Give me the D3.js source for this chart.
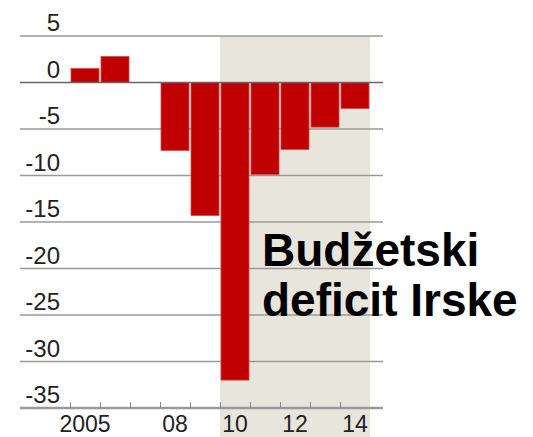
<!DOCTYPE html>
<html>
<head>
<meta charset="utf-8">
<script src="https://cdn.jsdelivr.net/npm/d3@7"></script>
<style>
  html, body { margin: 0; padding: 0; background: #fff; }
  svg { display: block; }
  text { font-family: "Liberation Sans", Arial, sans-serif; }
</style>
</head>
<body>
<svg id="chart" width="533" height="437"></svg>
<script>
// Irish general government balance, % of GDP
const years = [2005, 2006, 2007, 2008, 2009, 2010, 2011, 2012, 2013, 2014];
const balance = [1.5, 2.8, 0, -7.3, -14.3, -32.0, -9.9, -7.2, -4.8, -2.8];
const forecastFrom = 2010;
const yTicks = [5, 0, -5, -10, -15, -20, -25, -30, -35];
const xLabelYears = [2005, 2008, 2010, 2012, 2014];
const xLabelText = ["2005", "08", "10", "12", "14"];
const titleLines = ["Budžetski", "deficit Irske"];

const svg = d3.select("#chart");
const W = 533, H = 437;

const x = d3.scaleBand().domain(years).range([70, 370])
  .paddingInner(2 / 30).paddingOuter(1 / 30);
const y = d3.scaleLinear().domain([-35, 5]).range([408, 36]);

const gap = x.step() - x.bandwidth();
const gridLeft = 20, gridRight = 383;

// shaded projection period
svg.append("rect")
  .attr("x", x(forecastFrom) - gap / 2)
  .attr("y", y(5))
  .attr("width", x.range()[1] - (x(forecastFrom) - gap / 2))
  .attr("height", H - y(5))
  .attr("fill", "#e8e6dc");

// horizontal gridlines
svg.append("g").selectAll("line")
  .data(yTicks.filter(d => d !== 0 && d !== -35))
  .join("line")
  .attr("x1", gridLeft).attr("x2", gridRight)
  .attr("y1", d => y(d)).attr("y2", d => y(d))
  .attr("stroke", "#999").attr("stroke-width", 1.4);

// bars
svg.append("g").selectAll("rect")
  .data(years.map((yr, i) => ({ yr, v: balance[i] })).filter(d => d.v !== 0))
  .join("rect")
  .attr("x", d => x(d.yr))
  .attr("width", x.bandwidth())
  .attr("y", d => y(Math.max(0, d.v)))
  .attr("height", d => Math.abs(y(d.v) - y(0)))
  .attr("fill", "#c00000")
  .attr("stroke", "#d84848")
  .attr("stroke-width", 0.8);

// zero line
svg.append("line")
  .attr("x1", gridLeft).attr("x2", gridRight)
  .attr("y1", y(0)).attr("y2", y(0))
  .attr("stroke", "#666").attr("stroke-width", 1.6);

// baseline axis
svg.append("line")
  .attr("x1", gridLeft).attr("x2", gridRight)
  .attr("y1", y(-35)).attr("y2", y(-35))
  .attr("stroke", "#999").attr("stroke-width", 2.4);

// year ticks at band boundaries
svg.append("g").selectAll("line")
  .data(years)
  .join("line")
  .attr("x1", d => x(d) - gap / 2 + 0.5).attr("x2", d => x(d) - gap / 2 + 0.5)
  .attr("y1", y(-35) - 6).attr("y2", y(-35))
  .attr("stroke", "#888").attr("stroke-width", 1);

// y tick labels
svg.append("g").selectAll("text")
  .data(yTicks)
  .join("text")
  .attr("x", 60)
  .attr("y", d => y(d) - 5)
  .attr("text-anchor", "end")
  .attr("font-size", 24)
  .attr("fill", "#222")
  .text(d => d);

// x tick labels
svg.append("g").selectAll("text")
  .data(xLabelYears)
  .join("text")
  .attr("x", d => x(d) + x.bandwidth() / 2)
  .attr("y", 432)
  .attr("text-anchor", "middle")
  .attr("font-size", 23)
  .attr("fill", "#222")
  .text((d, i) => xLabelText[i]);

// title
svg.append("g").selectAll("text")
  .data(titleLines)
  .join("text")
  .attr("x", 262)
  .attr("y", (d, i) => 266 + i * 50)
  .attr("font-size", 46)
  .attr("font-weight", "bold")
  .attr("fill", "#000")
  .text(d => d);
</script>
</body>
</html>
